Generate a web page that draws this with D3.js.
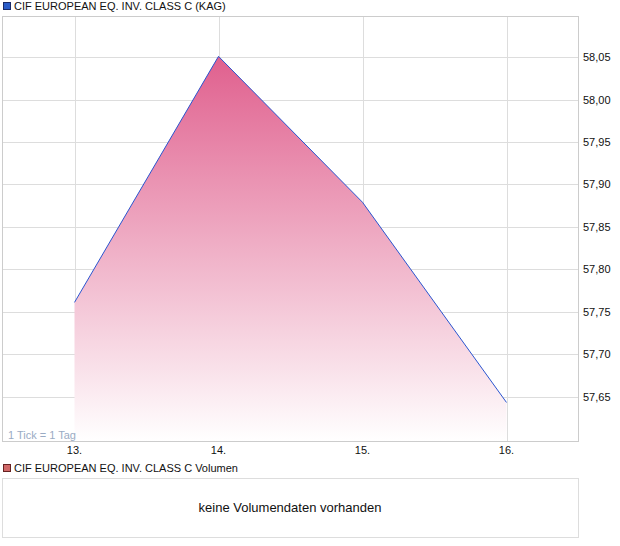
<!DOCTYPE html>
<html><head><meta charset="utf-8">
<script src="https://cdn.jsdelivr.net/npm/d3@7"></script>
<style>body{margin:0;background:#fff;font-family:"Liberation Sans",Arial,sans-serif;}</style>
</head><body>
<script>
const days = [13, 14, 15, 16];
const dayLabels = ["13.", "14.", "15.", "16."];
const prices = [57.761, 58.051, 57.879, 57.643];
const yTicks = [57.65, 57.70, 57.75, 57.80, 57.85, 57.90, 57.95, 58.00, 58.05];
const title = "CIF EUROPEAN EQ. INV. CLASS C (KAG)";
const volTitle = "CIF EUROPEAN EQ. INV. CLASS C Volumen";
const noVol = "keine Volumendaten vorhanden";

const W = 620, H = 546;
const L = 2.5, R = 578.5, T = 16.5, B = 441.5;
const svg = d3.select("body").append("svg").attr("width", W).attr("height", H);
const defs = svg.append("defs");

const x = d3.scaleLinear().domain([12.5, 16.5]).range([L, R]);
const y = d3.scaleLinear().domain([57.597, 58.098]).range([B, T]);

// legend top
svg.append("rect").attr("x", 3.5).attr("y", 2.5).attr("width", 7).attr("height", 7)
  .attr("fill", "#2a5cc8").attr("stroke", "#1a2a66").attr("stroke-width", 1);
svg.append("text").attr("x", 14).attr("y", 10).attr("font-size", 11).attr("fill", "#111").text(title);

// grid
const g = svg.append("g");
g.selectAll(".hg").data(yTicks).enter().append("line")
  .attr("x1", L).attr("x2", R).attr("y1", d => Math.round(y(d)) + 0.5).attr("y2", d => Math.round(y(d)) + 0.5)
  .attr("stroke", "#dddddd");
g.selectAll(".vg").data(days).enter().append("line")
  .attr("y1", T).attr("y2", B).attr("x1", d => Math.round(x(d)) + 0.5).attr("x2", d => Math.round(x(d)) + 0.5)
  .attr("stroke", "#dddddd");

// gradient
const grad = defs.append("linearGradient").attr("id", "ag")
  .attr("gradientUnits", "userSpaceOnUse")
  .attr("x1", 0).attr("x2", 0).attr("y1", y(d3.max(prices))).attr("y2", B);
grad.append("stop").attr("offset", "0%").attr("stop-color", "#e0608e");
grad.append("stop").attr("offset", "100%").attr("stop-color", "#ffffff");

const pts = days.map((d, i) => [d, prices[i]]);
svg.append("path").datum(pts)
  .attr("d", d3.area().x(d => x(d[0])).y0(B).y1(d => y(d[1])))
  .attr("fill", "url(#ag)");
svg.append("path").datum(pts)
  .attr("d", d3.line().x(d => x(d[0])).y(d => y(d[1])))
  .attr("fill", "none").attr("stroke", "#2a55d0").attr("stroke-width", 1);

// border
svg.append("rect").attr("x", L).attr("y", T).attr("width", R - L).attr("height", B - T)
  .attr("fill", "none").attr("stroke", "#cccccc");

// right axis labels
svg.selectAll(".yl").data(yTicks).enter().append("text")
  .attr("x", 583).attr("y", d => y(d) + 4).attr("font-size", 11).attr("fill", "#111")
  .text(d => d3.format(".2f")(d).replace(".", ","));

// bottom labels
svg.selectAll(".xl").data(days).enter().append("text")
  .attr("x", d => x(d)).attr("y", 454).attr("text-anchor", "middle").attr("font-size", 11).attr("fill", "#111")
  .text((d, i) => dayLabels[i]);

svg.append("text").attr("x", 8).attr("y", 439).attr("font-size", 11).attr("fill", "#9aabc4").text("1 Tick = 1 Tag");

// volume legend
svg.append("rect").attr("x", 3.5).attr("y", 464.5).attr("width", 7).attr("height", 7)
  .attr("fill", "#d06868").attr("stroke", "#662222").attr("stroke-width", 1);
svg.append("text").attr("x", 14).attr("y", 472).attr("font-size", 11).attr("fill", "#111").text(volTitle);
svg.append("rect").attr("x", L).attr("y", 478.5).attr("width", R - L).attr("height", 59)
  .attr("fill", "none").attr("stroke", "#dddddd");
svg.append("text").attr("x", 290).attr("y", 512).attr("text-anchor", "middle").attr("font-size", 13).attr("fill", "#111").text(noVol);
</script>
</body></html>
